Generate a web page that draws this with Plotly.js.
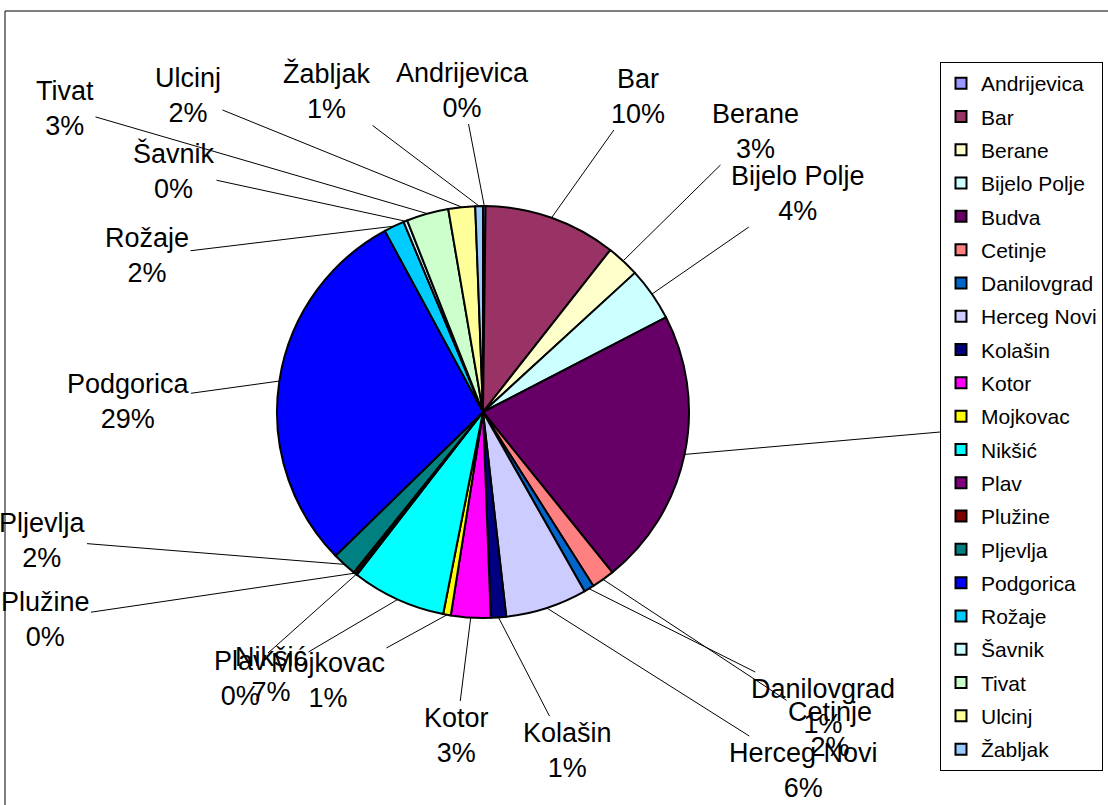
<!DOCTYPE html>
<html>
<head>
<meta charset="utf-8">
<script src="https://cdn.plot.ly/plotly-3.0.1.min.js"></script>
<style>html,body{margin:0;padding:0;background:#fff;}#chart{width:1108px;height:805px;}</style>
</head>
<body>
<div id="chart"></div>
<script>
// ---- data ----
const municipalities = ["Andrijevica","Bar","Berane","Bijelo Polje","Budva","Cetinje","Danilovgrad","Herceg Novi","Kolašin","Kotor","Mojkovac","Nikšić","Plav","Plužine","Pljevlja","Podgorica","Rožaje","Šavnik","Tivat","Ulcinj","Žabljak"];
const shares = [0.2,10.4,2.6,4.2,21.8,1.8,0.8,6.4,1.2,3.1,0.6,7.4,0.1,0.2,1.9,29.4,1.6,0.3,3.3,2.1,0.6];

// ---- style ----
const sliceColors = ["#9999FF","#993366","#FFFFCC","#CCFFFF","#660066","#FF8080","#0066CC","#CCCCFF","#000080","#FF00FF","#FFFF00","#00FFFF","#800080","#800000","#008080","#0000FF","#00CCFF","#CCFFFF","#CCFFCC","#FFFF99","#99CCFF"];
// label box centres (pixels) for the data labels
const labelPos = [[462,90],[638,96],[755,131],[798,193],[1020,425],[830,729],[823,706],[803,770],[567,750],[456,735],[328,680],[271,674],[240,678],[45,619],[42,540],[128,402],[147,256],[174,171],[65,108],[188,96],[327,91]];

const W = 1108, H = 805;
const CX = 483, CY = 412, R = 206;
const FONT = "Arial, 'Liberation Sans', sans-serif";

const total = shares.reduce((a,b)=>a+b,0);
let cum = 0;
const annotations = [];
shares.forEach((v,i)=>{
  const th = 2*Math.PI*(cum + v/2)/total;
  cum += v;
  const tx = CX + R*Math.sin(th), ty = CY - R*Math.cos(th);
  const [lx,ly] = labelPos[i];
  annotations.push({
    xref:'paper', yref:'paper', x: tx/W, y: 1 - ty/H,
    ax: lx - tx, ay: ly - ty,
    text: municipalities[i] + '<br>' + Math.round(v/total*100) + '%',
    showarrow:true, arrowhead:0, arrowwidth:1, arrowcolor:'#000', standoff:0,
    font:{family:FONT, size:27, color:'#000'}, align:'center'
  });
});

const traces = [{
  type:'pie', labels:municipalities, values:shares, sort:false,
  direction:'clockwise', rotation:0, textinfo:'none', hoverinfo:'label+percent',
  showlegend:false,
  marker:{colors:sliceColors, line:{color:'#000', width:2}},
  domain:{x:[(CX-R)/W,(CX+R)/W], y:[1-(CY+R)/H, 1-(CY-R)/H]}
}];
municipalities.forEach((m,i)=>{
  traces.push({
    type:'scatter', mode:'markers', x:[null], y:[null], name:m, legendgroup:'g'+i,
    hoverinfo:'skip',
    marker:{symbol:'square', size:11, color:sliceColors[i], line:{color:'#000', width:2}}
  });
});

const layout = {
  width:W, height:H, margin:{l:0,r:0,t:0,b:0},
  paper_bgcolor:'#fff', plot_bgcolor:'rgba(0,0,0,0)',
  xaxis:{visible:false}, yaxis:{visible:false},
  showlegend:true,
  legend:{x:940/W, xanchor:'left', y:1-62/H, yanchor:'top',
    bgcolor:'#fff', bordercolor:'#000', borderwidth:1,
    font:{family:FONT, size:21, color:'#000'}, tracegroupgap:3, itemwidth:30},
  annotations:annotations,
  shapes:[{type:'rect', xref:'paper', yref:'paper', x0:5/W, x1:1.02, y0:-0.02, y1:1-11/H, line:{color:'#000', width:1}}]
};
const gd = document.getElementById('chart');
Plotly.newPlot(gd, traces, layout, {displayModeBar:false}).then(()=>{
  // legend sits above the data labels, as in the source chart
  const lg = gd.querySelector('g.legend');
  if (lg && lg.parentNode) lg.parentNode.appendChild(lg);
});
</script>
</body>
</html>
